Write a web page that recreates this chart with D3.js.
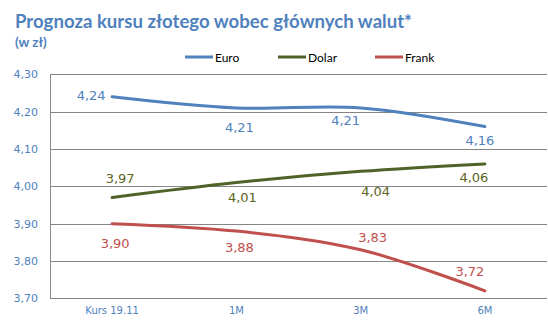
<!DOCTYPE html>
<html><head><meta charset="utf-8">
<script src="https://cdn.jsdelivr.net/npm/d3@7"></script>
<style>body{margin:0;background:#fff}svg{display:block}</style>
</head><body>
<svg id="c" width="548" height="333"></svg>
<script>
const categories = ["Kurs 19.11", "1M", "3M", "6M"];
const seriesNames = ["Euro", "Dolar", "Frank"];
const euro = [4.24, 4.21, 4.21, 4.16];
const dolar = [3.97, 4.01, 4.04, 4.06];
const frank = [3.90, 3.88, 3.83, 3.72];
const yTicks = [3.70, 3.80, 3.90, 4.00, 4.10, 4.20, 4.30];

// styles
const lineColors = ["#4f81bd", "#4f6228", "#c0504d"];
const labelColors = ["#4f81bd", "#5c6420", "#c0504d"];
const labelOffsets = [
  [[-21,-1.5],[3,20],[-15,12.5],[-5,14]],
  [[8,-19.5],[6,14.5],[15,20.5],[-11,14]],
  [[3,19.5],[3,16],[12,-12],[-15,-19]]
];
const values = [euro, dolar, frank];

const svg = d3.select("#c");
const m = {l:50, r:1, t:74.3, b:298.3};
const x = d3.scaleBand().domain(categories).range([m.l, 548-m.r]);
const y = d3.scaleLinear().domain([3.70, 4.30]).range([m.b, m.t]);
const fmt = v => d3.format(".2f")(v).replace(".", ",");

// title
svg.append("text").attr("x",15).attr("y",28)
  .attr("font-family","Lato, 'Open Sans', sans-serif").attr("font-weight","bold")
  .attr("font-size",19.5).attr("fill","#4f81bd")
  .attr("textLength",397).attr("lengthAdjust","spacingAndGlyphs")
  .text("Prognoza kursu złotego wobec głównych walut*");
svg.append("text").attr("x",15).attr("y",47)
  .attr("font-family","Lato, 'Open Sans', sans-serif").attr("font-weight","bold")
  .attr("font-size",13.5).attr("fill","#4f81bd")
  .text("(w zł)");

// grid
svg.append("g").selectAll("line").data(yTicks).join("line")
  .attr("x1",m.l).attr("x2",548-m.r)
  .attr("y1",d=>Math.round(y(d))+0.5).attr("y2",d=>Math.round(y(d))+0.5)
  .attr("stroke","#868686").attr("stroke-width",1);
svg.append("line").attr("x1",m.l+0.5).attr("x2",m.l+0.5)
  .attr("y1",Math.round(y(4.30))+0.5).attr("y2",Math.round(y(3.70))+0.5)
  .attr("stroke","#868686");

// y axis labels
const yAxis = d3.axisLeft(y).tickValues(yTicks).tickFormat(fmt).tickSize(0).tickPadding(12);
const ya = svg.append("g").attr("transform",`translate(${m.l},0)`).call(yAxis);
ya.select(".domain").remove();
ya.selectAll("text").attr("font-family","'DejaVu Sans', sans-serif").attr("font-size",11)
  .attr("fill","#4f81bd");

// x axis labels
const xAxis = d3.axisBottom(x).tickSize(0).tickPadding(9);
const xa = svg.append("g").attr("transform",`translate(0,${m.b})`).call(xAxis);
xa.select(".domain").remove();
xa.selectAll("text").attr("font-family","'DejaVu Sans', sans-serif").attr("font-size",10)
  .attr("fill","#4f81bd");

// lines
const line = d3.line().x((d,i)=>x(categories[i])+x.bandwidth()/2).y(d=>y(d))
  .curve(d3.curveCatmullRom.alpha(0.5));
values.forEach((vals,s)=>{
  svg.append("path").attr("d",line(vals)).attr("fill","none")
    .attr("stroke",lineColors[s]).attr("stroke-width",3).attr("stroke-linecap","round");
});
values.forEach((vals,s)=>{
  svg.append("g").selectAll("text").data(vals).join("text")
    .attr("x",(d,i)=>x(categories[i])+x.bandwidth()/2+labelOffsets[s][i][0])
    .attr("y",(d,i)=>y(d)+labelOffsets[s][i][1])
    .attr("text-anchor","middle").attr("dominant-baseline","central")
    .attr("font-family","'DejaVu Sans', sans-serif").attr("font-size",13)
    .attr("fill",labelColors[s]).text(fmt);
});

// legend
const legX = [185, 278, 375];
const lg = svg.append("g");
seriesNames.forEach((n,i)=>{
  lg.append("line").attr("x1",legX[i]).attr("x2",legX[i]+28).attr("y1",57).attr("y2",57)
    .attr("stroke",lineColors[i]).attr("stroke-width",3);
  lg.append("text").attr("x",legX[i]+30).attr("y",57).attr("dominant-baseline","central")
    .attr("font-family","Lato, 'Open Sans', sans-serif").attr("font-size",12).attr("fill","#000")
    .text(n);
});
</script>
</body></html>
